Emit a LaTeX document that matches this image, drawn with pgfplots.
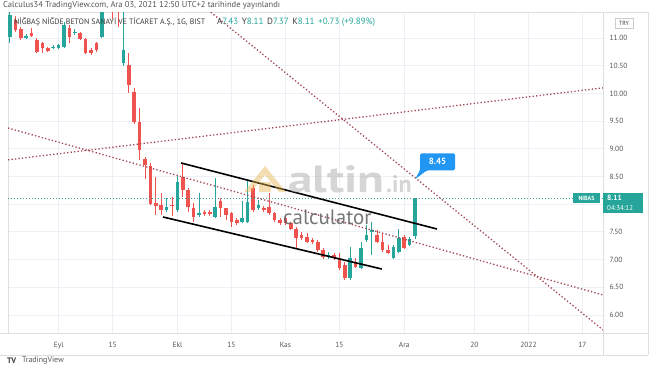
\documentclass[border=0pt]{standalone}
\usepackage{graphicx}
\usepackage{pgfplots}
\pgfplotsset{compat=1.18}
\usepackage{pgfplotstable}
\usepackage{fontspec}
\setmainfont{PT Sans}
\definecolor{cup}{RGB}{38,166,154}
\definecolor{cdn}{RGB}{239,83,80}
\definecolor{trend}{RGB}{165,70,85}
\definecolor{tvblue}{RGB}{33,150,243}
\definecolor{gridc}{RGB}{236,239,244}
\definecolor{txt}{RGB}{85,85,85}
\definecolor{dtxt}{RGB}{60,60,60}
\definecolor{gold}{RGB}{232,180,80}

\pgfplotstableread{
i o h l c
-9 11.02 11.50 10.91 11.42
-6 11.00 11.08 10.98 11.04
-1 10.83 10.87 10.80 10.845
0 10.82 10.89 10.80 10.87
1 10.84 11.28 10.82 11.23
3 11.09 11.16 11.05 11.11
8 11.02 11.55 11.00 11.50
9 11.60 12.20 11.50 12.00
12 10.55 11.55 10.50 10.78
20 7.90 8.11 7.86 7.95
22 7.90 8.53 7.86 8.40
26 7.81 8.20 7.77 7.84
29 7.77 8.47 7.75 7.95
34 7.68 8.06 7.66 7.75
35 7.68 8.44 7.66 8.04
37 7.93 8.08 7.90 7.99
50 7.05 7.14 7.01 7.08
54 6.67 7.23 6.63 7.03
56 6.85 7.32 6.83 7.21
57 7.35 7.62 7.32 7.44
58 7.50 7.68 7.08 7.53
62 7.03 7.26 7.01 7.23
63 7.14 7.55 7.12 7.39
65 7.26 7.41 7.24 7.38
66 7.43 8.11 7.37 8.11
}\upc

\pgfplotstableread{
i o h l c
-8 11.32 11.40 11.10 11.14
-7 11.16 11.20 10.96 11.00
-5 11.09 11.18 11.02 11.04
-4 10.96 11.00 10.73 10.75
-3 10.91 10.93 10.73 10.82
-2 10.82 10.84 10.75 10.77
2 11.18 11.23 10.91 11.02
4 11.09 11.11 10.96 10.98
5 10.98 11.00 10.71 10.73
6 10.78 10.82 10.69 10.73
7 10.91 10.93 10.75 10.78
10 12.00 12.30 11.35 11.80
11 11.80 11.90 11.20 11.60
13 10.51 10.73 10.01 10.15
14 10.03 10.10 9.45 9.48
15 9.48 9.74 8.80 8.98
16 8.82 8.85 8.45 8.71
17 8.69 8.74 7.99 8.00
18 8.02 8.49 7.81 7.97
19 7.99 8.20 7.81 7.90
21 7.99 8.13 7.79 7.97
23 8.49 8.74 8.13 8.26
24 8.26 8.29 7.86 7.95
25 7.93 8.02 7.68 7.77
27 7.86 7.90 7.79 7.82
28 7.86 7.90 7.79 7.82
30 8.06 8.11 7.77 7.93
31 7.93 7.93 7.71 7.81
32 7.84 7.86 7.59 7.68
33 7.71 7.75 7.62 7.66
36 8.29 8.35 7.86 7.90
38 7.93 7.97 7.86 7.90
39 7.95 8.20 7.81 7.84
40 7.84 7.86 7.68 7.71
41 7.71 7.75 7.62 7.66
42 7.75 7.77 7.62 7.66
43 7.66 7.68 7.53 7.55
44 7.55 7.59 7.21 7.39
45 7.44 7.50 7.35 7.39
46 7.41 7.48 7.30 7.32
47 7.35 7.39 7.28 7.32
48 7.32 7.35 7.14 7.17
49 7.17 7.21 7.01 7.05
51 7.08 7.12 6.99 7.02
52 7.03 7.12 6.82 6.85
53 6.90 6.96 6.63 6.67
55 6.94 7.03 6.85 6.87
59 7.44 7.53 7.30 7.32
60 7.32 7.46 7.14 7.17
61 7.17 7.26 7.10 7.12
64 7.41 7.44 7.19 7.21
}\dnc

\begin{document}
\begin{tikzpicture}
\path[use as bounding box] (0,0) rectangle (654bp,366bp);
\fill[white] (0,0) rectangle (654bp,366bp);
\begin{axis}[
  at={(8bp,33bp)}, anchor=south west,
  scale only axis, width=595bp, height=321bp,
  xmin=-9.37, xmax=100.81, ymin=5.675, ymax=11.469,
  axis line style={draw=gray!25},
  xtick={0,10,22,32,42,52,64,77,87,97},
  xticklabels={Eyl,15,Ekl,15,Kas,15,Ara,20,2022,17},
  ytick={6,6.5,7,7.5,8,8.5,9,9.5,10,10.5,11},
  yticklabels={6.00,6.50,7.00,7.50,{},8.50,9.00,9.50,10.00,10.50,11.00},
  yticklabel pos=right,
  major tick length=0pt, tick style={draw=none},
  xmajorgrids, ymajorgrids, grid style={draw=gridc, line width=0.8bp},
  ticklabel style={font=\fontsize{7.5}{8}\selectfont, text=txt},
  yticklabel style={anchor=west, xshift=3bp},
  xticklabel style={yshift=-6bp},
  /pgf/number format/assume math mode=true,
]
% wicks
\addplot[draw=none, mark=none, forget plot, error bars/.cd, y dir=plus, y explicit, error mark=none,
  error bar style={draw=cup, line width=1bp}]
  table[x=i, y=l, y error plus expr=\thisrow{h}-\thisrow{l}] {\upc};
\addplot[draw=none, mark=none, forget plot, error bars/.cd, y dir=plus, y explicit, error mark=none,
  error bar style={draw=cdn, line width=1bp}]
  table[x=i, y=l, y error plus expr=\thisrow{h}-\thisrow{l}] {\dnc};
% bodies
\addplot[draw=none, mark=none, forget plot, error bars/.cd, y dir=plus, y explicit, error mark=none,
  error bar style={draw=cup, line width=3.7bp}]
  table[x=i, y=o, y error plus expr=\thisrow{c}-\thisrow{o}] {\upc};
\addplot[draw=none, mark=none, forget plot, error bars/.cd, y dir=plus, y explicit, error mark=none,
  error bar style={draw=cdn, line width=3.7bp}]
  table[x=i, y=c, y error plus expr=\thisrow{o}-\thisrow{c}] {\dnc};
% last price line
\addplot[cup!70!gray, line width=0.8bp, dash pattern=on 1bp off 2bp] coordinates {(-9.37,8.11) (100.81,8.11)};
% trend lines
\addplot[trend, line width=1.3bp, dash pattern=on 1.3bp off 2.2bp] coordinates {(-9.37,8.80) (100.81,10.10)};
\addplot[trend, line width=1.3bp, dash pattern=on 1.3bp off 2.2bp] coordinates {(-9.37,9.375) (100.81,6.361)};
\addplot[trend, line width=1.3bp, dash pattern=on 1.3bp off 2.2bp] coordinates {(27.67,11.505) (100.81,5.73)};
% channel
\addplot[black, line width=1.6bp] coordinates {(22.67,8.744) (70.07,7.552)};
\addplot[black, line width=1.6bp] coordinates {(19.33,7.769) (59.85,6.830)};
% callout
\fill[tvblue, rounded corners=1.5bp] (axis cs:66,8.45) -- ++(5bp,9bp) -- ++(0bp,17bp) -- ++(35bp,0bp) -- ++(0bp,-17bp) -- ++(-28bp,0bp) -- cycle;
\node[text=white, font=\bfseries\fontsize{9}{10}\selectfont, inner sep=0] at ([shift={(22.5bp,17.5bp)}]axis cs:66,8.45) {8.45};
\end{axis}
\begin{scope}[x=1bp,y=-1bp,yshift=366bp]
% frame lines
\draw[gray!25, line width=0.8bp] (0,333) -- (648,333);
\draw[gray!25, line width=0.8bp] (0,355) -- (648,355);
\draw[gray!25, line width=0.8bp] (603,12) -- (603,355);
\draw[gray!25, line width=0.8bp] (648,12) -- (648,355);
\draw[gray!25, line width=0.8bp] (603,12) -- (648,12);
% watermark
\fill[gold, opacity=0.45] (244,192) -- (265,166) -- (286,192) -- (279,192) -- (265,175) -- (251,192) -- cycle;
\fill[gold, opacity=0.45] (259,182) rectangle (271,192);
\node[anchor=base west, inner sep=0, font=\bfseries\fontsize{38}{40}\selectfont, text=gray!55, opacity=0.6] at (288,193) {\scalebox{1.3}[1]{altin}};
\node[anchor=base west, inner sep=0, font=\bfseries\fontsize{24}{26}\selectfont, text=gray!55, opacity=0.6] at (386,193) {.in};
\node[anchor=base west, inner sep=0, font=\fontsize{21}{22}\selectfont, text=gray!75!black, opacity=0.85] at (283,225) {calculator};
% header
\node[anchor=west, inner sep=0, text=txt] at (3,5) {\resizebox{277bp}{!}{Calculus34 TradingView.com, Ara 03, 2021 12:50 UTC+2 tarihinde yayınlandı}};
\node[anchor=west, inner sep=0, text=dtxt] at (14,22) {\resizebox{191bp}{!}{NİĞBAŞ NİĞDE BETON SANAYİ VE TİCARET A.Ş., 1G, BIST}};
\node[anchor=west, inner sep=0, text=dtxt] at (217,22) {\resizebox{158bp}{!}{A\textcolor{cup}{7.43}\hspace{4bp}Y\textcolor{cup}{8.11}\hspace{4bp}D\textcolor{cup}{7.37}\hspace{4bp}K\textcolor{cup}{8.11}\hspace{4bp}\textcolor{cup}{+0.73 (+9.89\%)}}};
% TRY
\draw[gray!40, fill=white, line width=0.5bp] (615,18) rectangle (633,28);
\node[font=\fontsize{6}{7}\selectfont, text=dtxt, inner sep=0] at (624,23) {TRY};
% price tags
\fill[cup] (573,193) rectangle (600,203);
\node[font=\bfseries\fontsize{6}{7}\selectfont, text=white, inner sep=0] at (586.5,198) {NIBAS};
\fill[cup] (603,193) rectangle (643,213);
\node[anchor=west, font=\bfseries\fontsize{7.5}{8}\selectfont, text=white, inner sep=0] at (607,198) {8.11};
\node[anchor=west, font=\fontsize{7}{8}\selectfont, text=white, inner sep=0] at (607,208) {04:34:12};
% bottom logo
\node[anchor=west, inner sep=0, font=\bfseries\fontsize{8}{9}\selectfont, text=dtxt] at (7,361) {TV};
\node[anchor=west, inner sep=0, font=\fontsize{8}{9}\selectfont, text=txt] at (22,361) {TradingView};
\end{scope}
\end{tikzpicture}
\end{document}
